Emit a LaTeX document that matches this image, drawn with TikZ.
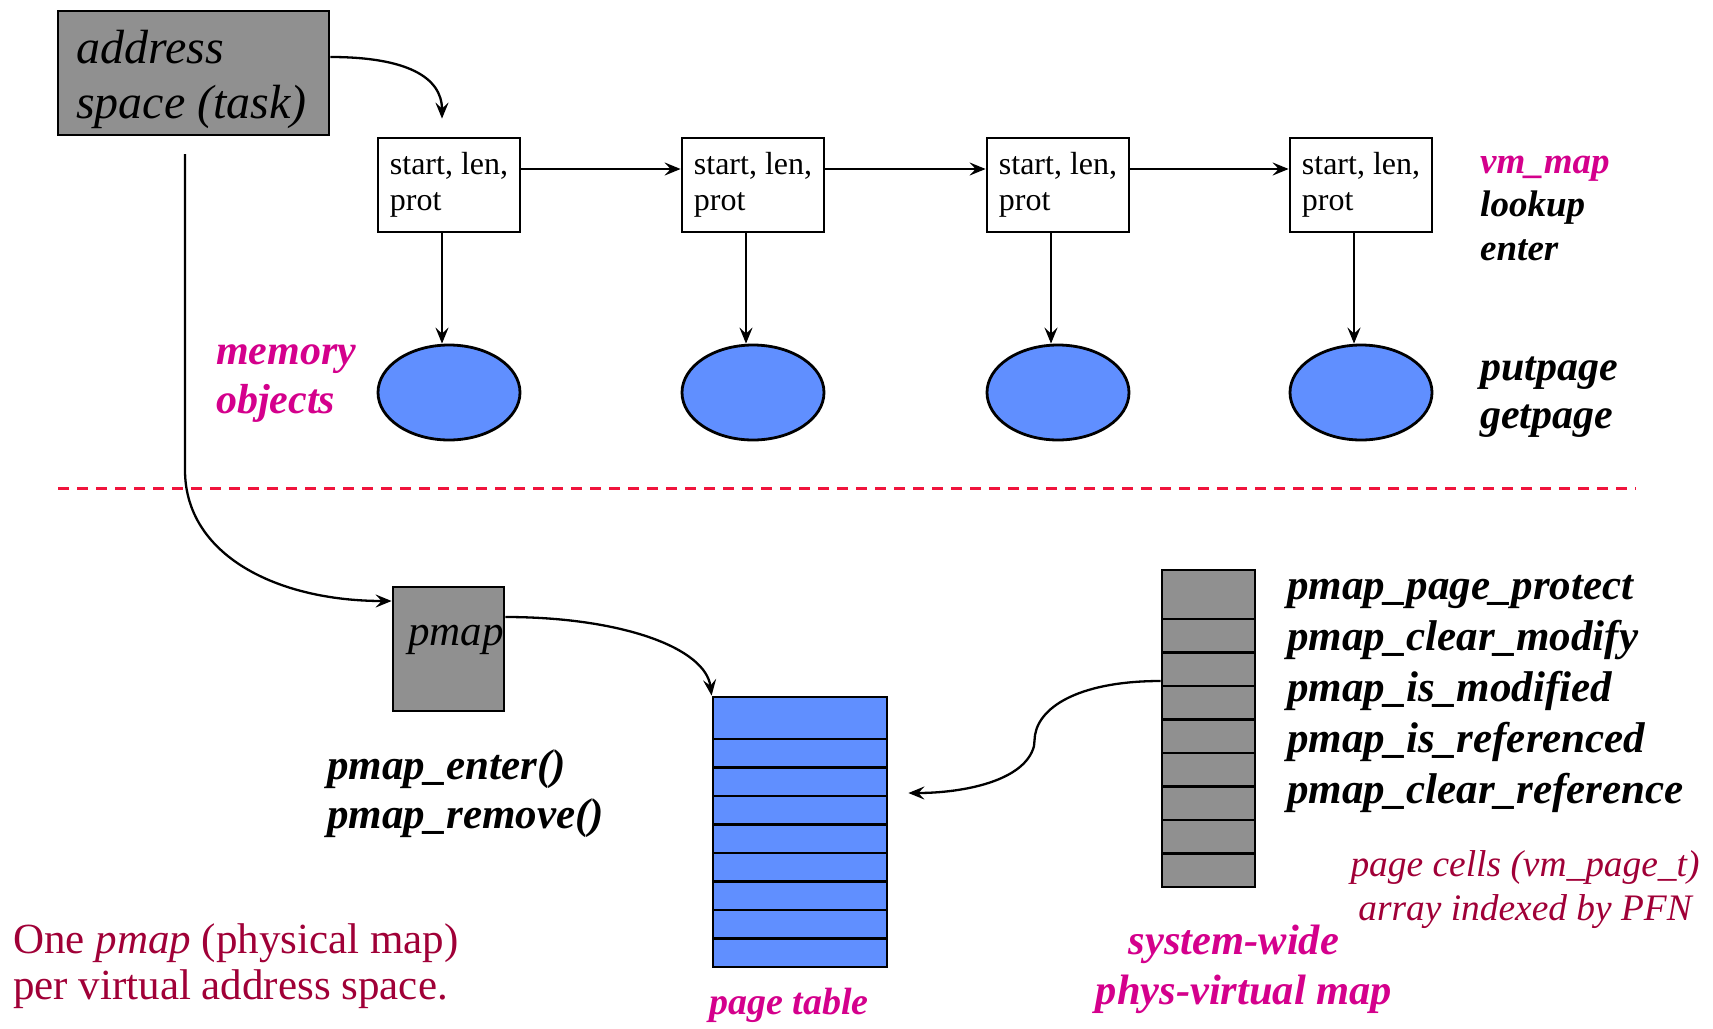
\documentclass[tikz,border=0pt]{standalone}
\usepackage{fontspec}
\setmainfont{Liberation Serif}
\usetikzlibrary{arrows.meta,shapes.geometric}
\definecolor{grayfill}{RGB}{144,144,144}
\definecolor{bluefill}{RGB}{96,143,255}
\definecolor{mag}{RGB}{212,0,140}
\definecolor{dred}{RGB}{160,0,55}
\definecolor{dashred}{RGB}{240,20,60}
\begin{document}
\begin{tikzpicture}[x=1pt,y=-1pt,
  box/.style={draw,line width=2.8pt,rectangle,inner sep=0pt},
  vbox/.style={box,fill=white,minimum width=142pt,minimum height=94pt,align=left,
    font=\fontsize{32}{36}\selectfont},
  obj/.style={draw,line width=2.8pt,ellipse,fill=bluefill,inner sep=0pt,
    minimum width=142pt,minimum height=95pt},
  arr/.style={line width=2.3pt,-{Stealth[length=16pt,width=13pt,inset=6pt]}},
  lbl/.style={anchor=base west,inner sep=0pt},
  clbl/.style={anchor=base,inner sep=0pt},
  cellline/.style={line width=2.8pt},
  fasp/.style={font=\fontsize{48}{56}\selectfont\itshape},
  fbi/.style={font=\fontsize{#1}{#1}\selectfont\bfseries\itshape},
  fit/.style={font=\fontsize{#1}{#1}\selectfont\itshape},
  frm/.style={font=\fontsize{#1}{#1}\selectfont}
]
\useasboundingbox (0,0) rectangle (1713,1028);

% address space box
\node[box,fill=grayfill,minimum width=271pt,minimum height=124pt] (as) at (193.5,73) {};
\node[lbl,fasp] (as1) at (76,63) {address};
\node[lbl,fasp] (as2) at (76,118) {space (task)};

% vm_map entries and memory objects
\foreach \i/\x in {1/449,2/753,3/1058,4/1361}{
  \node[vbox] (b\i) at (\x,185) {start, len,\\prot};
  \node[obj] (e\i) at (\x,392.5) {};
  \draw[arr] ([xshift=-7pt]b\i.south) -- ([xshift=-7pt]e\i.north);
}
\foreach \i/\j in {1/2,2/3,3/4}{
  \draw[arr] ([yshift=16pt]b\i.east) -- ([yshift=16pt]b\j.west);
}
\coordinate (b1in) at ([xshift=-7pt,yshift=18pt]b1.north);
\draw[arr] ([yshift=16pt]as.east) .. controls +(75,0) and +(0,-42) .. (b1in);

% labels top
\node[lbl,fbi=42,text=mag] (mo1) at (216,364) {memory};
\node[lbl,fbi=42,text=mag] (mo2) at (216,413) {objects};
\node[lbl,fbi=37,text=mag] (vm1) at (1480,173) {vm\_map};
\node[lbl,fbi=37] (vm2) at (1480,216) {lookup};
\node[lbl,fbi=37] (vm3) at (1480,260) {enter};
\node[lbl,fbi=42] (pg1) at (1480,380) {putpage};
\node[lbl,fbi=42] (pg2) at (1480,428) {getpage};

% dashed separator
\coordinate (dl) at (58,488);
\coordinate (dr) at (1636,488);
\draw[dashred,line width=3pt,dash pattern=on 11pt off 8pt] (dl) -- (dr);

% pmap
\node[box,fill=grayfill,minimum width=111pt,minimum height=124pt] (pm) at (448.5,649) {};
\node[lbl,fit=43] (pmt) at (408,645) {pmap};
\coordinate (asb) at (185,154);
\draw[arr] (asb) -- ++(0,316) .. controls +(0,85) and +(-115,0) .. ([yshift=48pt]pm.west);

\node[lbl,fbi=43] (pe1) at (327,779) {pmap\_enter()};
\node[lbl,fbi=43] (pe2) at (327,828) {pmap\_remove()};

% page table
\node[box,fill=bluefill,minimum width=174pt,minimum height=270pt] (pt) at (800,832) {};
\foreach \y in {739,767.5,796,824.5,853,881.5,910,938.5}{
  \draw[cellline] (713,\y) -- (887,\y);
}
\draw[arr] ([yshift=32pt]pm.east) .. controls +(115,0) and +(-6,-48) .. (pt.north west);
\node[clbl,fbi=38,text=mag] (ptl) at (789,1014) {page table};

% phys-virtual map
\node[box,fill=grayfill,minimum width=93pt,minimum height=317pt] (pv) at (1208.5,728.5) {};
\foreach \y in {619,652.5,686,719.5,753,786.5,820,853.5}{
  \draw[cellline] (1162,\y) -- (1255,\y);
}
\coordinate (ptin) at ([xshift=20pt,yshift=39pt]pt.east);
\draw[arr] ([yshift=47.5pt]pv.west) .. controls +(-78,0) and +(5,-30) .. (1035,735)
  -- (1034,746) .. controls +(-9,35) and +(55,0) .. (ptin);

\node[lbl,fbi=43] (f1) at (1287,599) {pmap\_page\_protect};
\node[lbl,fbi=43] (f2) at (1287,650) {pmap\_clear\_modify};
\node[lbl,fbi=43] (f3) at (1287,701) {pmap\_is\_modified};
\node[lbl,fbi=43] (f4) at (1287,752) {pmap\_is\_referenced};
\node[lbl,fbi=43] (f5) at (1287,803) {pmap\_clear\_reference};

\node[clbl,fit=37.4,text=dred] (pc1) at (1525,876) {page cells (vm\_page\_t)};
\node[clbl,fit=37.4,text=dred] (pc2) at (1525,920) {array indexed by PFN};

\node[clbl,fbi=42.5,text=mag] (sw1) at (1234,954) {system-wide};
\node[clbl,fbi=42.5,text=mag] (sw2) at (1244,1004) {phys-virtual map};

\node[lbl,frm=43,text=dred] (one1) at (13,953) {One \textit{pmap} (physical map)};
\node[lbl,frm=43,text=dred] (one2) at (13,999) {per virtual address space.};
\end{tikzpicture}
\end{document}
